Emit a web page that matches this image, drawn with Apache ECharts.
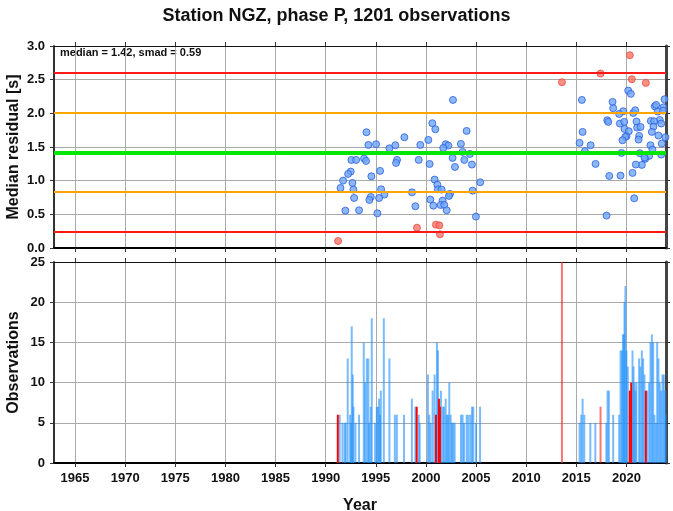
<!DOCTYPE html>
<html><head><meta charset="utf-8">
<script src="https://cdn.jsdelivr.net/npm/echarts@6/dist/echarts.min.js"></script>
<style>html,body{margin:0;padding:0;background:#fff}#c{width:673px;height:511px}</style>
</head><body><div id="c"></div>
<script>
const titleText = 'Station NGZ, phase P, 1201 observations';
const statsText = 'median = 1.42, smad = 0.59';
const yearTicks = [1965,1970,1975,1980,1985,1990,1995,2000,2005,2010,2015,2020];
const residTicks = [0,0.5,1,1.5,2,2.5,3];
const obsTicks = [0,5,10,15,20,25];
const refLines = [2.60, 2.01, 1.42, 0.83, 0.24];
const refColors = ['#ff1a1a','#ffa500','#00e600','#ffa500','#ff1a1a'];

const blueYears = [2002.70,2000.64,2000.94,1994.07,2004.06,1997.85,2000.24,1994.26,1995.03,1996.36,1996.95,1999.44,2001.97,2002.23,2001.73,2003.49,2003.66,2004.39,1992.57,1993.04,1993.83,1994.03,1997.12,1997.02,1999.28,2000.37,2002.66,2003.83,2002.90,2004.59,1992.50,1992.24,1995.43,1991.74,1994.56,1992.67,1991.48,1992.77,1995.53,2000.87,2001.14,2001.20,2001.57,2005.42,2004.66,1998.61,1995.86,1992.84,1994.50,1994.36,1995.33,2002.40,2002.30,2000.44,2001.67,2000.74,2001.47,2001.83,2002.07,1998.95,1991.97,1993.33,1995.16,2004.99,
2020.18,2020.44,2015.56,2018.62,2018.68,2019.68,2019.28,2020.68,2020.88,2023.80,2022.83,2022.97,2023.70,2023.13,2023.66,2018.09,2018.19,2019.35,2019.78,2021.01,2022.44,2023.33,2023.47,2022.77,2015.63,2019.81,2020.24,2021.07,2021.41,2022.70,2022.54,2020.01,2019.88,2021.27,2021.21,2023.20,2023.90,2019.61,2015.33,2016.43,2015.86,2019.51,2021.34,2022.40,2022.60,2023.53,2023.47,2022.27,2021.87,2021.80,2021.54,2020.94,2016.92,2018.29,2019.41,2020.61,2020.78,2018.02];
const blueVals = [2.199,1.853,1.764,1.719,1.739,1.645,1.605,1.531,1.541,1.481,1.526,1.531,1.541,1.521,1.486,1.546,1.427,1.397,1.308,1.308,1.328,1.293,1.308,1.263,1.308,1.248,1.338,1.308,1.204,1.239,1.135,1.100,1.145,1.001,1.065,0.966,0.892,0.867,0.872,1.016,0.941,0.872,0.867,0.976,0.852,0.827,0.793,0.743,0.758,0.714,0.743,0.803,0.773,0.719,0.704,0.629,0.639,0.639,0.560,0.620,0.555,0.560,0.515,0.466,
2.338,2.289,2.199,2.170,2.076,2.031,1.991,2.006,2.046,2.209,2.105,2.125,2.090,2.026,2.041,1.897,1.873,1.848,1.873,1.878,1.887,1.902,1.848,1.882,1.724,1.769,1.734,1.788,1.798,1.803,1.724,1.660,1.650,1.665,1.610,1.670,1.645,1.600,1.561,1.526,1.437,1.412,1.407,1.526,1.462,1.551,1.387,1.368,1.323,1.343,1.234,1.239,1.249,1.070,1.075,1.115,0.738,0.481];
const redYears = [1991.24,1999.11,2001.00,2001.34,2001.40,2020.34,2017.42,2013.57,2020.54,2021.94];
const redVals = [0.104,0.302,0.347,0.337,0.203,2.863,2.591,2.462,2.507,2.452];

const barYears = [1991.40,1991.68,1991.90,1992.00,1992.20,1992.44,1992.55,1992.60,1992.70,1992.77,1992.97,1993.33,1993.80,1993.93,1994.10,1994.26,1994.33,1994.50,1994.60,1994.93,1995.10,1995.23,1995.33,1995.43,1995.50,1995.80,1996.36,1996.90,1997.10,1997.82,1998.60,1998.95,1999.28,1999.38,2000.20,2000.34,2000.47,2000.67,2000.87,2001.10,2001.20,2001.50,2001.67,2001.80,2001.97,2002.07,2002.20,2002.33,2002.47,2002.60,2002.73,2002.87,2003.50,2003.66,2003.80,2004.06,2004.23,2004.43,2004.60,2004.73,2005.00,2005.40,
2015.33,2015.50,2015.63,2015.80,2016.40,2016.90,2018.00,2018.12,2018.25,2018.68,2019.28,2019.42,2019.55,2019.65,2019.75,2019.81,2019.90,2020.00,2020.14,2020.61,2020.71,2020.80,2020.90,2021.00,2021.27,2021.40,2021.54,2021.67,2021.80,2022.07,2022.27,2022.40,2022.54,2022.67,2022.80,2022.93,2023.07,2023.20,2023.33,2023.47,2023.60,2023.73,2023.87,2023.93];
const barCounts = [6,5,5,5,13,6,5,17,11,7,5,6,15,10,13,13,5,7,18,5,7,7,8,6,9,18,13,6,6,6,8,7,6,5,11,6,5,9,11,15,14,9,7,7,8,6,6,10,6,5,5,5,6,6,5,6,6,6,7,7,5,7,
5,6,8,6,5,5,5,9,9,6,6,14,14,16,16,20,22,14,12,14,12,10,9,10,13,12,14,13,11,9,10,15,16,15,6,5,15,13,10,9,11,11,9,6];
const redBarYears = [1991.21,1999.08,2001.00,2001.30,2001.40,2020.34,2020.48,2021.94];
const redBarCounts = [6,7,6,8,7,9,10,9];
const paleRedBarYears = [2013.57,2017.42];
const paleRedBarCounts = [25,7];

const zip = (a,b) => a.map((v,i)=>[v,b[i]]);
const FONT = 'Liberation Sans';
const lbl = {fontFamily: FONT, fontWeight: 'bold', fontSize: 13, color: '#111'};
const xMin = 1962.9, xMax = 2023.95;
const grids = [
  {left: 54, top: 46, width: 612, height: 202, outerBoundsMode: 'none', containLabel: false},
  {left: 54, top: 262, width: 612, height: 201, outerBoundsMode: 'none', containLabel: false}
];
function xAx(gi, pos, showLabels) {
  return {
    type: 'value', gridIndex: gi, position: pos, min: xMin, max: xMax,
    axisLine: {show: true, onZero: false, lineStyle: {color: pos === 'bottom' ? '#000' : '#111', width: pos === 'bottom' ? 2 : 1}},
    axisTick: {show: true, length: 4, customValues: yearTicks, lineStyle: {color: '#333'}},
    axisLabel: {show: showLabels, customValues: yearTicks, ...lbl, margin: 9, formatter: v => String(Math.round(v))},
    splitLine: {show: pos === 'bottom', lineStyle: {color: '#aaa', width: 1}},
    name: (gi === 1 && pos === 'bottom') ? 'Year' : '',
    nameLocation: 'middle', nameGap: 35, nameMoveOverlap: false,
    nameTextStyle: {fontFamily: FONT, fontWeight: 'bold', fontSize: 16, color: '#111'}
  };
}
function yAx(gi, pos, min, max, interval, name, fmt) {
  const left = pos === 'left';
  return {
    type: 'value', gridIndex: gi, position: pos, min, max, interval,
    axisLine: {show: true, lineStyle: {color: left ? '#333' : '#444', width: left ? 2 : 3}},
    axisTick: {show: true, length: 4, lineStyle: {color: '#333'}},
    axisLabel: {show: left, ...lbl, margin: 9, formatter: fmt},
    splitLine: {show: left, lineStyle: {color: '#aaa', width: 1}},
    name: left ? name : '', nameLocation: 'middle', nameGap: 32, nameMoveOverlap: false,
    nameTextStyle: {fontFamily: FONT, fontWeight: 'bold', fontSize: 16, color: '#111'}
  };
}
const chart = echarts.init(document.getElementById('c'), null, {renderer: 'canvas'});
const barBase = {type: 'bar', xAxisIndex: 2, yAxisIndex: 2, barWidth: 2, barGap: '-100%', animation: false, silent: true};
chart.setOption({
  animation: false,
  title: {text: titleText, left: 'center', top: 2, textStyle: {fontFamily: FONT, fontWeight: 'bold', fontSize: 18, color: '#111'}},
  grid: grids,
  xAxis: [xAx(0,'bottom',false), xAx(0,'top',false), xAx(1,'bottom',true), xAx(1,'top',false)],
  yAxis: [yAx(0,'left',0,3,0.5,'Median residual [s]', v=>v.toFixed(1)), yAx(0,'right',0,3,0.5,'',null),
          yAx(1,'left',0,25,5,'Observations', v=>String(v)), yAx(1,'right',0,25,5,'',null)],
  graphic: [{type: 'text', left: 60, top: 47, style: {text: statsText, font: 'bold 11px "Liberation Sans"', fill: '#111'}}],
  series: [
    {type: 'line', xAxisIndex: 0, yAxisIndex: 0, data: [], z: 1,
     markLine: {silent: true, symbol: 'none', label: {show: false}, animation: false,
       data: refLines.map((v,i)=>({yAxis: v, lineStyle: {color: refColors[i], width: i===2 ? 4 : 2.2, type: 'solid'}}))}},
    {type: 'scatter', xAxisIndex: 0, yAxisIndex: 0, z: 3, symbolSize: 7, data: zip(blueYears, blueVals),
     itemStyle: {color: '#6fa6f6', borderColor: '#2a5fe0', borderWidth: 1}},
    {type: 'scatter', xAxisIndex: 0, yAxisIndex: 0, z: 3, symbolSize: 7, data: zip(redYears, redVals),
     itemStyle: {color: '#f87468', borderColor: '#ee4a40', borderWidth: 1}},
    {...barBase, data: zip(barYears, barCounts), itemStyle: {color: 'rgba(30,144,255,0.6)'}},
    {...barBase, data: zip(paleRedBarYears, paleRedBarCounts), itemStyle: {color: 'rgba(255,40,40,0.65)'}},
    {...barBase, data: zip(redBarYears, redBarCounts), itemStyle: {color: '#ff0000'}}
  ]
});
</script></body></html>
